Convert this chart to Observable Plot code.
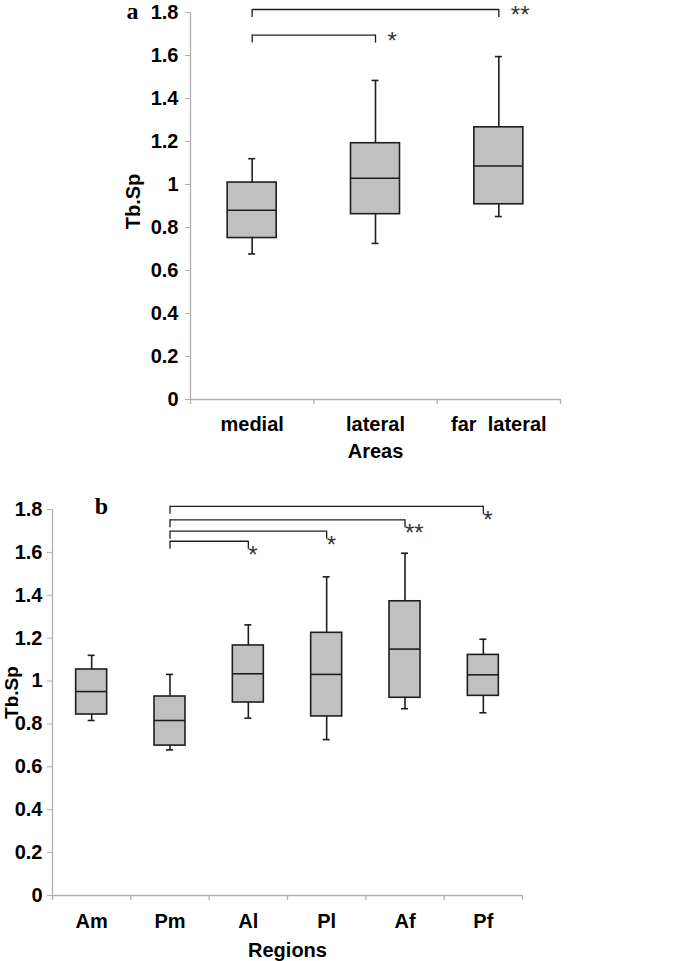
<!DOCTYPE html>
<html><head><meta charset="utf-8">
<script src="https://cdn.jsdelivr.net/npm/d3@7"></script>
<script src="https://cdn.jsdelivr.net/npm/@observablehq/plot@0.6"></script>
<style>
body{margin:0;background:#fff;}
#chart svg{display:block;}
svg text{white-space:pre;}
</style></head><body><div id="chart"></div>
<script>
// ---- Panel a data (Areas) ----
const areas = ["medial", "lateral", "far  lateral"];
const areaMin    = [0.677, 0.726, 0.851];
const areaQ1     = [0.751, 0.862, 0.908];
const areaMedian = [0.880, 1.029, 1.086];
const areaQ3     = [1.009, 1.192, 1.266];
const areaMax    = [1.120, 1.484, 1.595];
const areaBrFrom  = ["medial", "medial"];
const areaBrTo    = ["lateral", "far  lateral"];
const areaBrLevel = [1.695, 1.814];
const areaBrLabel = ["*", "**"];

// ---- Panel b data (Regions) ----
const regions = ["Am", "Pm", "Al", "Pl", "Af", "Pf"];
const regMin    = [0.816, 0.679, 0.827, 0.727, 0.871, 0.852];
const regQ1     = [0.844, 0.699, 0.900, 0.835, 0.922, 0.931];
const regMedian = [0.951, 0.816, 1.034, 1.031, 1.149, 1.029];
const regQ3     = [1.054, 0.928, 1.166, 1.225, 1.372, 1.122];
const regMax    = [1.120, 1.031, 1.262, 1.486, 1.596, 1.195];
const regBrFrom  = ["Pm", "Pm", "Pm", "Pm"];
const regBrTo    = ["Al", "Pl", "Af", "Pf"];
const regBrLevel = [1.652, 1.699, 1.752, 1.815];
const regBrLabel = ["*", "*", "**", "*"];

const yTicks = [0, 0.2, 0.4, 0.6, 0.8, 1, 1.2, 1.4, 1.6, 1.8];
const yTitle = "Tb.Sp";

function rowsOf(cats, mn, q1, md, q3, mx) {
  return cats.map((c, i) => ({cat: c, min: mn[i], q1: q1[i], median: md[i], q3: q3[i], max: mx[i]}));
}
function bracketsOf(from, to, level, label) {
  return from.map((f, i) => ({from: f, to: to[i], level: level[i], label: label[i]}));
}

function boxPanel(o) {
  const {cats, rows, brackets, width, height, mt, mr, mb, ml, boxW, letter, letterDx, letterDy,
         xTitle, xTitleDy, yTitleDx, yTitleDy, yTitleSize, yTickPad, xTickPad, starDx, starDy} = o;
  const bw = (width - ml - mr) / cats.length;
  const boxInset = (bw - boxW) / 2;
  const capInset = (bw - 7) / 2;
  const ink = "#1e1e1e";
  const grey = "#b0b0b0";
  const bold = {fontSize: 20, fontWeight: "bold", fill: "black"};
  const centered = {textAnchor: "middle", lineAnchor: "middle"};
  return Plot.plot({
    width, height,
    marginTop: mt, marginRight: mr, marginBottom: mb, marginLeft: ml,
    style: {fontFamily: "'Liberation Sans', Arial, sans-serif", background: "white", overflow: "visible"},
    x: {type: "band", domain: cats, padding: 0, round: false},
    y: {domain: [0, 1.8], nice: false},
    marks: [
      Plot.ruleY([0], {stroke: grey, strokeWidth: 1.3}),
      Plot.ruleX([cats[0]], {x: d => d, dx: -bw / 2, stroke: grey, strokeWidth: 1.3}),
      Plot.ruleX(cats, {x: d => d, y1: 0, y2: 0, dx: -bw / 2, insetBottom: -5, stroke: grey, strokeWidth: 1.3}),
      Plot.ruleX([cats[cats.length - 1]], {x: d => d, y1: 0, y2: 0, dx: bw / 2, insetBottom: -5, stroke: grey, strokeWidth: 1.3}),
      Plot.axisY({ticks: yTicks, tickFormat: d => String(d), tickSize: 5, tickPadding: yTickPad, stroke: grey, label: null, ...bold}),
      Plot.axisX({tickSize: 0, tickPadding: xTickPad, label: null, ...bold}),
      // whiskers
      Plot.ruleX(rows, {x: "cat", y1: "q3", y2: "max", stroke: ink, strokeWidth: 1.6}),
      Plot.ruleX(rows, {x: "cat", y1: "min", y2: "q1", stroke: ink, strokeWidth: 1.6}),
      Plot.tickY(rows, {x: "cat", y: "max", insetLeft: capInset, insetRight: capInset, stroke: ink, strokeWidth: 1.6}),
      Plot.tickY(rows, {x: "cat", y: "min", insetLeft: capInset, insetRight: capInset, stroke: ink, strokeWidth: 1.6}),
      // boxes
      Plot.barY(rows, {x: "cat", y1: "q1", y2: "q3", insetLeft: boxInset, insetRight: boxInset,
                       fill: "#c0c0c0", stroke: ink, strokeWidth: 1.6}),
      Plot.tickY(rows, {x: "cat", y: "median", insetLeft: boxInset, insetRight: boxInset, stroke: ink, strokeWidth: 1.6}),
      // significance brackets
      Plot.link(brackets, {x1: "from", x2: "to", y1: "level", y2: "level", stroke: ink, strokeWidth: 1.3}),
      Plot.ruleX(brackets, {x: "from", y1: "level", y2: "level", insetBottom: -8, stroke: ink, strokeWidth: 1.3}),
      Plot.ruleX(brackets, {x: "to", y1: "level", y2: "level", insetBottom: -8, stroke: ink, strokeWidth: 1.3}),
      Plot.text(brackets, {x: "to", y: "level", text: "label", textAnchor: "start", lineAnchor: "middle",
                           dx: starDx, dy: starDy, fontSize: 24, fill: "#333"}),
      // titles
      Plot.text([letter], {text: d => d, frameAnchor: "top-left", dx: letterDx, dy: letterDy, ...centered,
                           fontFamily: "'Liberation Serif', 'Times New Roman', serif", fontWeight: "bold", fontSize: 24, fill: "black"}),
      Plot.text([xTitle], {text: d => d, frameAnchor: "bottom", dy: xTitleDy, ...centered, ...bold}),
      Plot.text([yTitle], {text: d => d, frameAnchor: "left", rotate: -90, dx: yTitleDx, dy: yTitleDy, ...centered,
                           fontSize: yTitleSize, fontWeight: "bold", fill: "black"})
    ]
  });
}

const chart = document.getElementById("chart");
chart.append(boxPanel({
  cats: areas,
  rows: rowsOf(areas, areaMin, areaQ1, areaMedian, areaQ3, areaMax),
  brackets: bracketsOf(areaBrFrom, areaBrTo, areaBrLevel, areaBrLabel),
  width: 685, height: 470, mt: 12, mr: 125, mb: 71, ml: 190,
  boxW: 49, letter: "a", letterDx: -58, letterDy: -1,
  xTitle: "Areas", xTitleDy: 52, yTitleDx: -57, yTitleDy: -4.5, yTitleSize: 20,
  yTickPad: 7, xTickPad: 17,
  starDx: 12, starDy: 6
}));
chart.append(boxPanel({
  cats: regions,
  rows: rowsOf(regions, regMin, regQ1, regMedian, regQ3, regMax),
  brackets: bracketsOf(regBrFrom, regBrTo, regBrLevel, regBrLabel),
  width: 685, height: 491, mt: 39, mr: 163, mb: 66, ml: 52,
  boxW: 31, letter: "b", letterDx: 49, letterDy: -3,
  xTitle: "Regions", xTitleDy: 55, yTitleDx: -41, yTitleDy: -10, yTitleSize: 19,
  yTickPad: 5, xTickPad: 18,
  starDx: 0, starDy: 14
}));
</script></body></html>
